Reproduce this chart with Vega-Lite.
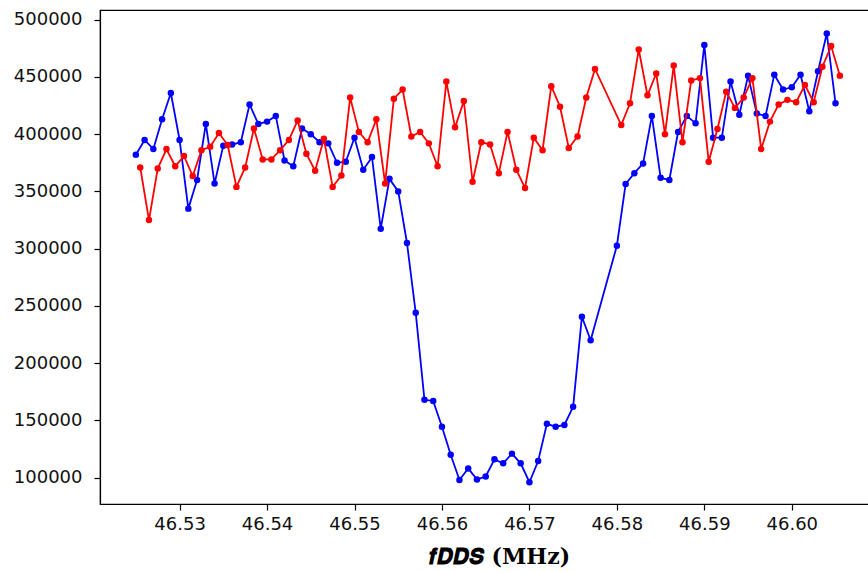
{
  "$schema": "https://vega.github.io/schema/vega-lite/v6.json",
  "autosize": "none",
  "width": 774,
  "height": 494,
  "padding": {"left": 100, "top": 10, "right": 0, "bottom": 68},
  "background": "white",
  "config": {
    "view": {"stroke": "black", "strokeWidth": 1.2},
    "axis": {
      "grid": false,
      "domainColor": "black",
      "domainWidth": 1.2,
      "tickColor": "black",
      "tickWidth": 1.2,
      "tickSize": 6,
      "labelFont": "DejaVu Sans",
      "labelFontSize": 18,
      "labelColor": "#111111"
    }
  },
  "datasets": {
    "blue": [
      {"f": 46.525, "counts": 382000}, {"f": 46.526, "counts": 395000}, {"f": 46.527, "counts": 387000},
      {"f": 46.528, "counts": 413000}, {"f": 46.529, "counts": 436000}, {"f": 46.530, "counts": 395000},
      {"f": 46.531, "counts": 335000}, {"f": 46.532, "counts": 360000}, {"f": 46.533, "counts": 409000},
      {"f": 46.534, "counts": 357000}, {"f": 46.535, "counts": 390000}, {"f": 46.536, "counts": 391000},
      {"f": 46.537, "counts": 393000}, {"f": 46.538, "counts": 426000}, {"f": 46.539, "counts": 409000},
      {"f": 46.540, "counts": 411000}, {"f": 46.541, "counts": 416000}, {"f": 46.542, "counts": 377000},
      {"f": 46.543, "counts": 372000}, {"f": 46.544, "counts": 405000}, {"f": 46.545, "counts": 400000},
      {"f": 46.546, "counts": 393000}, {"f": 46.547, "counts": 392000}, {"f": 46.548, "counts": 375000},
      {"f": 46.549, "counts": 376000}, {"f": 46.550, "counts": 397000}, {"f": 46.551, "counts": 369000},
      {"f": 46.552, "counts": 380000}, {"f": 46.553, "counts": 317500}, {"f": 46.554, "counts": 361000},
      {"f": 46.555, "counts": 350000}, {"f": 46.556, "counts": 305000}, {"f": 46.557, "counts": 244000},
      {"f": 46.558, "counts": 168000}, {"f": 46.559, "counts": 167000}, {"f": 46.560, "counts": 144500},
      {"f": 46.561, "counts": 120000}, {"f": 46.562, "counts": 98000}, {"f": 46.563, "counts": 108000},
      {"f": 46.564, "counts": 98500}, {"f": 46.565, "counts": 101000}, {"f": 46.566, "counts": 116000},
      {"f": 46.567, "counts": 112500}, {"f": 46.568, "counts": 121000}, {"f": 46.569, "counts": 112500},
      {"f": 46.570, "counts": 96000}, {"f": 46.571, "counts": 114500}, {"f": 46.572, "counts": 147000},
      {"f": 46.573, "counts": 144500}, {"f": 46.574, "counts": 146000}, {"f": 46.575, "counts": 162000},
      {"f": 46.576, "counts": 240600}, {"f": 46.577, "counts": 220000},
      {"f": 46.580, "counts": 302600}, {"f": 46.581, "counts": 356500}, {"f": 46.582, "counts": 366000},
      {"f": 46.583, "counts": 374500}, {"f": 46.584, "counts": 416000}, {"f": 46.585, "counts": 362000},
      {"f": 46.586, "counts": 360000}, {"f": 46.587, "counts": 402000}, {"f": 46.588, "counts": 416000},
      {"f": 46.589, "counts": 409500}, {"f": 46.590, "counts": 478000}, {"f": 46.591, "counts": 397000},
      {"f": 46.592, "counts": 397000}, {"f": 46.593, "counts": 446000}, {"f": 46.594, "counts": 417000},
      {"f": 46.595, "counts": 451000}, {"f": 46.596, "counts": 418000}, {"f": 46.597, "counts": 416000},
      {"f": 46.598, "counts": 452000}, {"f": 46.599, "counts": 439000}, {"f": 46.600, "counts": 441000},
      {"f": 46.601, "counts": 452000}, {"f": 46.602, "counts": 420000}, {"f": 46.603, "counts": 455000},
      {"f": 46.604, "counts": 488000}, {"f": 46.605, "counts": 427000}
    ],
    "red": [
      {"f": 46.5255, "counts": 371000}, {"f": 46.5265, "counts": 325000}, {"f": 46.5275, "counts": 370000},
      {"f": 46.5285, "counts": 387000}, {"f": 46.5295, "counts": 372000}, {"f": 46.5305, "counts": 381000},
      {"f": 46.5315, "counts": 363500}, {"f": 46.5325, "counts": 386000}, {"f": 46.5335, "counts": 389000},
      {"f": 46.5345, "counts": 401000}, {"f": 46.5355, "counts": 390500}, {"f": 46.5365, "counts": 354000},
      {"f": 46.5375, "counts": 371000}, {"f": 46.5385, "counts": 405000}, {"f": 46.5395, "counts": 378000},
      {"f": 46.5405, "counts": 378000}, {"f": 46.5415, "counts": 386000}, {"f": 46.5425, "counts": 395000},
      {"f": 46.5435, "counts": 412000}, {"f": 46.5445, "counts": 383000}, {"f": 46.5455, "counts": 368000},
      {"f": 46.5465, "counts": 396000}, {"f": 46.5475, "counts": 354000}, {"f": 46.5485, "counts": 364000},
      {"f": 46.5495, "counts": 432000}, {"f": 46.5505, "counts": 402000}, {"f": 46.5515, "counts": 393000},
      {"f": 46.5525, "counts": 413000}, {"f": 46.5535, "counts": 357000}, {"f": 46.5545, "counts": 431000},
      {"f": 46.5555, "counts": 439000}, {"f": 46.5565, "counts": 398000}, {"f": 46.5575, "counts": 402000},
      {"f": 46.5585, "counts": 392000}, {"f": 46.5595, "counts": 372000}, {"f": 46.5605, "counts": 446000},
      {"f": 46.5615, "counts": 406000}, {"f": 46.5625, "counts": 429000}, {"f": 46.5635, "counts": 358500},
      {"f": 46.5645, "counts": 393000}, {"f": 46.5655, "counts": 391000}, {"f": 46.5665, "counts": 366000},
      {"f": 46.5675, "counts": 402000}, {"f": 46.5685, "counts": 369000}, {"f": 46.5695, "counts": 353000},
      {"f": 46.5705, "counts": 397000}, {"f": 46.5715, "counts": 386000}, {"f": 46.5725, "counts": 442000},
      {"f": 46.5735, "counts": 424000}, {"f": 46.5745, "counts": 388000}, {"f": 46.5755, "counts": 398000},
      {"f": 46.5765, "counts": 432000}, {"f": 46.5775, "counts": 457000},
      {"f": 46.5805, "counts": 408000}, {"f": 46.5815, "counts": 427000}, {"f": 46.5825, "counts": 474000},
      {"f": 46.5835, "counts": 434000}, {"f": 46.5845, "counts": 453000}, {"f": 46.5855, "counts": 400000},
      {"f": 46.5865, "counts": 460000}, {"f": 46.5875, "counts": 393000}, {"f": 46.5885, "counts": 447000},
      {"f": 46.5895, "counts": 449000}, {"f": 46.5905, "counts": 376000}, {"f": 46.5915, "counts": 404500},
      {"f": 46.5925, "counts": 437000}, {"f": 46.5935, "counts": 423000}, {"f": 46.5945, "counts": 432000},
      {"f": 46.5955, "counts": 449000}, {"f": 46.5965, "counts": 387000}, {"f": 46.5975, "counts": 411000},
      {"f": 46.5985, "counts": 426000}, {"f": 46.5995, "counts": 430000}, {"f": 46.6005, "counts": 428000},
      {"f": 46.6015, "counts": 443000}, {"f": 46.6025, "counts": 428000}, {"f": 46.6035, "counts": 459000},
      {"f": 46.6045, "counts": 477000}, {"f": 46.6055, "counts": 451000}
    ]
  },
  "encoding": {
    "x": {
      "field": "f",
      "type": "quantitative",
      "scale": {"domain": [46.5209, 46.6094], "nice": false, "zero": false},
      "axis": {
        "values": [46.53, 46.54, 46.55, 46.56, 46.57, 46.58, 46.59, 46.60],
        "format": ".2f",
        "labelPadding": 5,
        "title": "𝒇𝑫𝑫𝑺 (MHz)",
        "titleFont": "DejaVu Serif",
        "titleFontSize": 22,
        "titleFontWeight": "bold",
        "titleColor": "black",
        "titlePadding": 13,
        "titleX": 399
      }
    },
    "y": {
      "field": "counts",
      "type": "quantitative",
      "scale": {"domain": [77000, 508500], "nice": false, "zero": false},
      "axis": {
        "values": [100000, 150000, 200000, 250000, 300000, 350000, 400000, 450000, 500000],
        "format": "d",
        "labelPadding": 12,
        "title": null
      }
    }
  },
  "layer": [
    {
      "data": {"name": "blue"},
      "mark": {"type": "line", "color": "#0000ff", "strokeWidth": 1.8, "clip": true,
               "point": {"filled": true, "size": 42, "color": "#0000ff", "opacity": 1}}
    },
    {
      "data": {"name": "red"},
      "mark": {"type": "line", "color": "#ff0000", "strokeWidth": 1.8, "clip": true,
               "point": {"filled": true, "size": 42, "color": "#ff0000", "opacity": 1}}
    }
  ]
}
